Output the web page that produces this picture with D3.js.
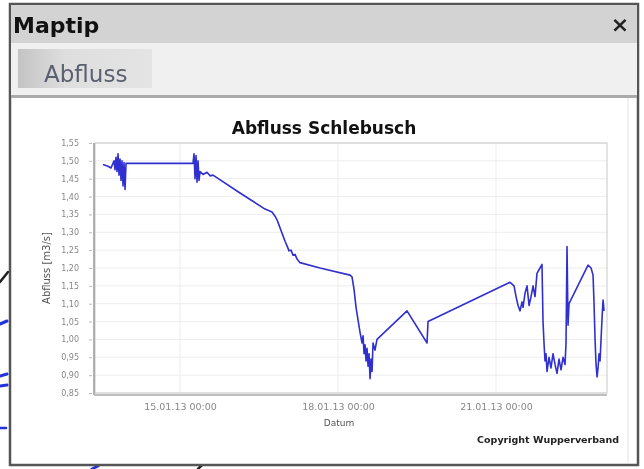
<!DOCTYPE html>
<html>
<head>
<meta charset="utf-8">
<script src="https://cdn.jsdelivr.net/npm/d3@7"></script>
<style>
  body { margin: 0; background: #fff; }
  svg { display: block; filter: blur(0.6px); }
</style>
</head>
<body>
<script>
// Zeitpunkte als Januartag mit Tagesbruchteil (2013), Abfluss in m3/s
var tage = [13.538, 13.633, 13.690, 13.747, 13.766, 13.785, 13.804, 13.823, 13.842, 13.861,
  13.880, 13.899, 13.918, 13.937, 13.956, 13.975, 15.247, 15.266, 15.285, 15.304,
  15.323, 15.342, 15.361, 15.380, 15.437, 15.513, 15.570, 15.627, 16.139, 16.614,
  16.747, 16.804, 16.842, 16.880, 16.918, 16.956, 16.994, 17.032, 17.070, 17.108,
  17.146, 17.184, 17.222, 17.278, 17.658, 18.228, 18.266, 18.304, 18.342, 18.380,
  18.418, 18.456, 18.475, 18.494, 18.513, 18.532, 18.551, 18.570, 18.589, 18.608,
  18.627, 18.646, 18.665, 18.702, 18.740, 19.310, 19.690, 19.709, 21.266, 21.342,
  21.380, 21.418, 21.456, 21.494, 21.513, 21.551, 21.589, 21.627, 21.665, 21.703,
  21.740, 21.778, 21.835, 21.873, 21.892, 21.911, 21.930, 21.949, 21.968, 22.006,
  22.044, 22.082, 22.120, 22.158, 22.196, 22.234, 22.272, 22.310, 22.329, 22.348,
  22.367, 22.386, 22.747, 22.804, 22.842, 22.861, 22.880, 22.899, 22.918, 22.937,
  22.956, 22.975, 22.994, 23.013, 23.032, 23.051];

var abfluss = [1.490, 1.485, 1.480, 1.500, 1.475, 1.510, 1.470, 1.520, 1.460, 1.505,
  1.445, 1.500, 1.430, 1.495, 1.420, 1.493, 1.493, 1.520, 1.450, 1.515,
  1.440, 1.500, 1.445, 1.470, 1.462, 1.468, 1.458, 1.460, 1.410, 1.365,
  1.357, 1.345, 1.335, 1.320, 1.305, 1.290, 1.275, 1.262, 1.248, 1.250,
  1.236, 1.238, 1.225, 1.215, 1.200, 1.180, 1.175, 1.140, 1.090, 1.055,
  1.020, 0.990, 1.010, 0.960, 0.985, 0.940, 0.975, 0.925, 0.960, 0.890,
  0.945, 0.910, 0.990, 0.970, 1.000, 1.080, 0.990, 1.050, 1.160, 1.150,
  1.120, 1.095, 1.080, 1.105, 1.090, 1.130, 1.150, 1.095, 1.120, 1.150,
  1.120, 1.185, 1.200, 1.210, 1.050, 0.990, 0.940, 0.960, 0.910, 0.950,
  0.920, 0.960, 0.930, 0.905, 0.945, 0.915, 0.950, 0.930, 0.990, 1.260,
  1.040, 1.100, 1.208, 1.200, 1.180, 1.100, 1.000, 0.930, 0.895, 0.920,
  0.960, 0.940, 1.000, 1.060, 1.110, 1.080];

var yTicks = [0.85, 0.90, 0.95, 1.00, 1.05, 1.10, 1.15, 1.20, 1.25, 1.30, 1.35, 1.40, 1.45, 1.50, 1.55];
var xTickTage = [15, 18, 21];

var width = 644, height = 469;

function tagZuDatum(t) {
  return new Date(2013, 0, 1, 0, 0).getTime() + (t - 1) * 86400000;
}

var daten = tage.map(function(t, i) { return { datum: new Date(tagZuDatum(t)), wert: abfluss[i] }; });

var svg = d3.select("body").append("svg")
    .attr("width", width)
    .attr("height", height);

// Hintergrund-Karte (Reste am Rand)
var karte = svg.append("g").attr("stroke-linecap", "round");
karte.append("path").attr("d", "M0,282 L8,272").attr("stroke", "#222").attr("stroke-width", 2.5);
karte.append("path").attr("d", "M0,324 L7,321").attr("stroke", "#2233dd").attr("stroke-width", 3);
karte.append("path").attr("d", "M0,376 L7,374 M0,386 L7,385").attr("stroke", "#2233dd").attr("stroke-width", 3);
karte.append("path").attr("d", "M0,428 L6,428").attr("stroke", "#2233dd").attr("stroke-width", 2.5);
karte.append("path").attr("d", "M92,469 L98,466").attr("stroke", "#2233dd").attr("stroke-width", 3);
karte.append("path").attr("d", "M198,469 L202,465").attr("stroke", "#222").attr("stroke-width", 2.5);

// Fenster
var fenster = svg.append("g");
fenster.append("rect").attr("x", 10).attr("y", 4).attr("width", 628).attr("height", 461)
    .attr("fill", "#fff").attr("stroke", "#555").attr("stroke-width", 2.5);
fenster.append("rect").attr("x", 11).attr("y", 5).attr("width", 626).attr("height", 38).attr("fill", "#d3d3d3");
fenster.append("text").attr("x", 13).attr("y", 33).text("Maptip")
    .attr("font-family", "DejaVu Sans, sans-serif").attr("font-weight", "bold").attr("font-size", 22).attr("fill", "#111");
fenster.append("text").attr("x", 620).attr("y", 32).attr("text-anchor", "middle").text("×")
    .attr("font-family", "DejaVu Sans, sans-serif").attr("font-weight", "bold").attr("font-size", 22).attr("fill", "#222");

fenster.append("rect").attr("x", 11).attr("y", 43).attr("width", 626).attr("height", 52).attr("fill", "#f0f0f0");
var grad = svg.append("defs").append("linearGradient").attr("id", "tab");
grad.append("stop").attr("offset", "0%").attr("stop-color", "#c4c4c4");
grad.append("stop").attr("offset", "35%").attr("stop-color", "#dedede");
grad.append("stop").attr("offset", "100%").attr("stop-color", "#e4e4e4");
fenster.append("rect").attr("x", 18).attr("y", 49).attr("width", 134).attr("height", 39).attr("fill", "url(#tab)");
fenster.append("text").attr("x", 44).attr("y", 82).text("Abfluss")
    .attr("font-family", "DejaVu Sans, sans-serif").attr("font-size", 23).attr("fill", "#5a6070");
fenster.append("rect").attr("x", 11).attr("y", 95).attr("width", 626).attr("height", 3).attr("fill", "#aaa");
fenster.append("line").attr("x1", 628).attr("x2", 628).attr("y1", 98).attr("y2", 463).attr("stroke", "#e4e4e4");

// Diagramm
var plot = { left: 95, right: 607, top: 143, bottom: 393 };

var x = d3.scaleTime()
    .domain([new Date(tagZuDatum(13.386)), new Date(tagZuDatum(23.107))])
    .range([plot.left, plot.right]);

var y = d3.scaleLinear()
    .domain([0.85, 1.55])
    .range([plot.bottom, plot.top]);

var xTicks = xTickTage.map(function(t) { return new Date(tagZuDatum(t)); });
var fmtX = d3.timeFormat("%d.%m.%y %H:%M");
var fmtY = function(v) { return d3.format(".2f")(v).replace(".", ","); };

var g = svg.append("g");

g.append("rect").attr("x", plot.left).attr("y", plot.top)
    .attr("width", plot.right - plot.left).attr("height", plot.bottom - plot.top)
    .attr("fill", "#fff");

// Gitter
g.selectAll(".hgrid").data(yTicks).enter().append("line")
    .attr("x1", plot.left).attr("x2", plot.right)
    .attr("y1", function(d) { return y(d); }).attr("y2", function(d) { return y(d); })
    .attr("stroke", "#ededed");
g.selectAll(".vgrid").data(xTicks).enter().append("line")
    .attr("y1", plot.top).attr("y2", plot.bottom)
    .attr("x1", function(d) { return x(d); }).attr("x2", function(d) { return x(d); })
    .attr("stroke", "#ededed");

g.append("rect").attr("x", plot.left).attr("y", plot.top)
    .attr("width", plot.right - plot.left).attr("height", plot.bottom - plot.top)
    .attr("fill", "none").attr("stroke", "#c8c8c8");
g.append("line").attr("x1", plot.left - 1).attr("x2", plot.left - 1).attr("y1", plot.top).attr("y2", plot.bottom + 2)
    .attr("stroke", "#999").attr("stroke-width", 1.5);
g.append("line").attr("x1", plot.left - 1).attr("x2", plot.right).attr("y1", plot.bottom + 2).attr("y2", plot.bottom + 2)
    .attr("stroke", "#aaa").attr("stroke-width", 1.5);

// Achsen
var yAxis = d3.axisLeft(y).tickValues(yTicks).tickFormat(fmtY).tickSize(3).tickPadding(10);
var ya = svg.append("g").attr("transform", "translate(" + (plot.left - 3) + ",0)").call(yAxis);
ya.select(".domain").remove();
ya.selectAll("line").attr("stroke", "#bbb");
ya.selectAll("text").attr("font-family", "DejaVu Sans, sans-serif").attr("font-size", 8).attr("fill", "#888");

var xAxis = d3.axisBottom(x).tickValues(xTicks).tickFormat(fmtX).tickSize(0).tickPadding(8);
var xa = svg.append("g").attr("transform", "translate(0," + (plot.bottom + 2) + ")").call(xAxis);
xa.select(".domain").remove();
xa.selectAll("text").attr("font-family", "DejaVu Sans, sans-serif").attr("font-size", 9.5).attr("fill", "#888");

// Linie
var linie = d3.line()
    .x(function(d) { return x(d.datum); })
    .y(function(d) { return y(d.wert); });

g.append("path").datum(daten)
    .attr("d", linie)
    .attr("fill", "none")
    .attr("stroke", "#3030d0")
    .attr("stroke-width", 1.6)
    .attr("stroke-linejoin", "round");

// Beschriftungen
svg.append("text").attr("x", 324).attr("y", 134).attr("text-anchor", "middle").text("Abfluss Schlebusch")
    .attr("font-family", "DejaVu Sans, sans-serif").attr("font-weight", "bold").attr("font-size", 17).attr("fill", "#111");
svg.append("text").attr("transform", "translate(50," + ((plot.top + plot.bottom) / 2) + ") rotate(-90)")
    .attr("text-anchor", "middle").text("Abfluss [m3/s]")
    .attr("font-family", "DejaVu Sans, sans-serif").attr("font-size", 10).attr("fill", "#555");
svg.append("text").attr("x", 339).attr("y", 426).attr("text-anchor", "middle").text("Datum")
    .attr("font-family", "DejaVu Sans, sans-serif").attr("font-size", 9).attr("fill", "#555");
svg.append("text").attr("x", 619).attr("y", 443).attr("text-anchor", "end").text("Copyright Wupperverband")
    .attr("font-family", "DejaVu Sans, sans-serif").attr("font-weight", "bold").attr("font-size", 9.5).attr("fill", "#222");
</script>
</body>
</html>
